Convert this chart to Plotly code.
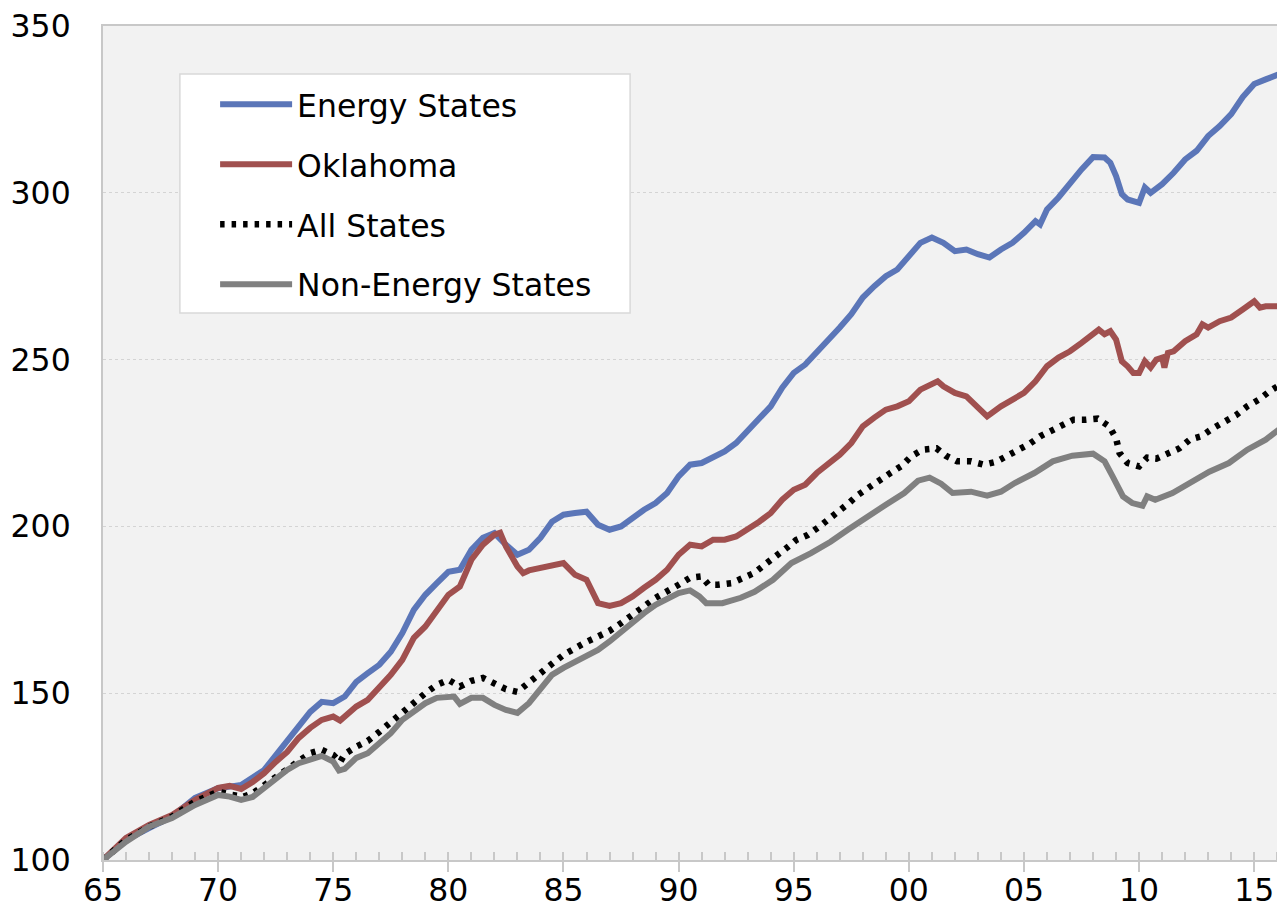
import plotly.graph_objects as go

# ---------------- data ----------------
energy_x = [1965, 1966, 1967, 1968, 1969, 1970, 1970.5, 1971, 1972, 1973, 1974, 1974.5, 1975, 1975.5,
            1976, 1976.5, 1977, 1977.5, 1978, 1978.5, 1979, 1979.5, 1980, 1980.5, 1981, 1981.5, 1982,
            1982.5, 1983, 1983.5, 1984, 1984.5, 1985, 1985.5, 1986, 1986.5, 1987, 1987.5, 1988, 1988.5,
            1989, 1989.5, 1990, 1990.5, 1991, 1991.5, 1992, 1992.5, 1993, 1993.5, 1994, 1994.5, 1995,
            1995.5, 1996, 1996.5, 1997, 1997.5, 1998, 1998.5, 1999, 1999.5, 2000, 2000.5, 2001, 2001.5,
            2002, 2002.5, 2003, 2003.5, 2004, 2004.5, 2005, 2005.5, 2005.7, 2006, 2006.5, 2007, 2007.5,
            2008, 2008.5, 2008.75, 2009, 2009.25, 2009.5, 2010, 2010.25, 2010.5, 2011, 2011.5, 2012,
            2012.5, 2013, 2013.5, 2014, 2014.5, 2015, 2015.5, 2016, 2016.25]
energy_y = [100, 106, 109.6, 113, 118.6, 121.5, 122, 122.5, 127, 136, 144.4, 147.4, 147, 149,
            153.4, 156, 158.5, 162.4, 168, 175, 179.5, 183, 186.4, 187, 193, 196.6, 198,
            194.5, 191.5, 193, 196.6, 201.4, 203.5, 204, 204.4, 200.5, 199, 200, 202.6, 205,
            207, 210, 215, 218.5, 219, 220.6, 222.5, 225, 228.5, 232, 236, 241.6, 246,
            248.5, 252, 256, 259.6, 263.6, 268.6, 272, 275, 277, 281, 285, 286.6, 285,
            282.5, 283, 281.6, 280.6, 283, 285, 288, 291.5, 290.5, 295, 298.6, 303, 307,
            310.7, 310.6, 309, 305, 299.6, 298, 297, 301.6, 300, 302.6, 306, 310,
            312.6, 317, 320, 323.6, 328.7, 332.6, 334, 335.6, 336]

oklahoma_x = [1965, 1966, 1967, 1968, 1969, 1970, 1970.5, 1971, 1971.5, 1972, 1972.5, 1973, 1973.5,
              1974, 1974.5, 1975, 1975.3, 1975.5, 1976, 1976.5, 1977, 1977.5, 1978, 1978.5, 1979,
              1979.5, 1980, 1980.5, 1981, 1981.5, 1982, 1982.25, 1982.5, 1983, 1983.25, 1983.5, 1984,
              1984.5, 1985, 1985.5, 1986, 1986.5, 1987, 1987.5, 1988, 1988.5, 1989, 1989.5, 1990,
              1990.5, 1991, 1991.5, 1992, 1992.5, 1993, 1993.5, 1994, 1994.5, 1995, 1995.5, 1996,
              1996.5, 1997, 1997.5, 1998, 1998.5, 1999, 1999.5, 2000, 2000.5, 2001, 2001.25, 2001.5,
              2002, 2002.5, 2003, 2003.4, 2004, 2004.5, 2005, 2005.5, 2006, 2006.5, 2007, 2007.5,
              2008, 2008.25, 2008.5, 2008.75, 2009, 2009.25, 2009.5, 2009.75, 2010, 2010.25, 2010.5,
              2010.75, 2011, 2011.1, 2011.25, 2011.5, 2012, 2012.5, 2012.75, 2013, 2013.5, 2014,
              2014.5, 2015, 2015.25, 2015.5, 2016, 2016.25]
oklahoma_y = [100, 106.6, 110.5, 113.5, 118, 121.6, 122.2, 121.3, 123.4, 126, 129.4, 132.4, 136.6,
              139.6, 142, 143, 141.8, 143, 146, 148, 151.6, 155.5, 160, 166.6, 170,
              175, 179.5, 182, 190, 194.5, 197.5, 198.1, 194, 188, 186, 186.8, 187.6,
              188.2, 189, 185.5, 184, 177, 176.2, 177, 179, 181.6, 184, 187, 191.5,
              194.5, 194, 196, 196, 197, 199, 201.4, 204, 208, 211, 212.5, 216,
              218.5, 221.5, 225, 230, 232.6, 235, 236, 237.5, 241, 242.6, 243.5, 242,
              240, 239, 235.6, 233, 236, 238, 240, 243.5, 248, 250.6, 252.5, 255,
              257.6, 259, 257.6, 258.5, 256, 249.5, 248, 246, 246, 249.5, 247.6,
              250, 250.6, 247.6, 252, 252.5, 255.5, 257.6, 260.6, 259.6, 261.5, 262.6,
              265, 267.5, 265.6, 266, 266, 265.6]

all_x = [1965, 1966, 1967, 1968, 1969, 1970, 1970.6, 1971.1, 1971.5, 1972, 1972.5, 1973, 1973.5,
         1974, 1974.5, 1975, 1975.3, 1975.5, 1976, 1976.5, 1977, 1977.5, 1978, 1978.5, 1979, 1979.5,
         1980, 1980.5, 1981, 1981.5, 1982, 1982.5, 1983, 1983.5, 1984, 1984.5, 1985, 1985.5, 1986,
         1986.5, 1987, 1987.5, 1988, 1988.5, 1989, 1989.5, 1990, 1990.5, 1991, 1991.3, 1991.7,
         1992.3, 1992.8, 1993.3, 1993.75, 1994.2, 1994.7, 1995.1, 1995.6, 1996.05, 1996.5, 1997,
         1997.4, 1997.8, 1998.3, 1998.8, 1999.2, 1999.7, 2000.1, 2000.6, 2001.2, 2001.6, 2002.1,
         2002.7, 2003.25, 2003.8, 2004.3, 2004.8, 2005.25, 2005.7, 2006.15, 2006.6, 2007.15,
         2007.7, 2008.2, 2008.7, 2009, 2009.15, 2009.5, 2010, 2010.35, 2010.75, 2011.3, 2011.75,
         2012.2, 2012.7, 2013.2, 2013.7, 2014.2, 2014.7, 2015.2, 2015.65, 2016.1, 2016.25]
all_y = [100, 106, 110, 113, 117.5, 120.5, 119.5, 119, 120, 122.5, 124.6, 127.6, 130,
         132, 133, 131.5, 129.4, 131.8, 134, 135.7, 138.4, 141.4, 144, 147.5, 150, 152.5,
         154, 152, 153.7, 154.6, 153, 151.2, 150.4, 153, 155.8, 158.8, 161.5, 163.6, 165.4,
         167, 168.7, 171, 173.8, 176, 178.6, 180.8, 182.5, 184.6, 185, 182.5, 182.5,
         183, 184.4, 186.1, 188.6, 190.8, 193.6, 195.9, 197.4, 199.6, 202, 204.4,
         207, 209.5, 212, 214, 216, 218.2, 221, 223, 223.4, 221.2, 219.5,
         219.5, 218.5, 219.4, 221.2, 223.4, 224.8, 227, 228.7, 230, 232,
         232, 232.3, 230, 226.4, 222, 219, 218, 220.6, 220.3, 222, 223.4,
         226, 227, 229.4, 231.5, 233.3, 236, 238, 240.4, 242.6, 243]

nonenergy_x = [1965, 1966, 1967, 1968, 1969, 1970, 1970.5, 1971, 1971.5, 1972, 1972.5, 1973, 1973.5,
               1974, 1974.5, 1975, 1975.25, 1975.5, 1976, 1976.5, 1977, 1977.5, 1978, 1978.5, 1979,
               1979.5, 1980, 1980.25, 1980.5, 1981, 1981.5, 1982, 1982.5, 1983, 1983.5, 1984, 1984.5,
               1985, 1985.5, 1986, 1986.5, 1987, 1987.5, 1988, 1988.5, 1989, 1989.5, 1990, 1990.5,
               1990.9, 1991.2, 1991.9, 1992.7, 1993.3, 1994.1, 1994.9, 1995.75, 1996.6, 1997.35,
               1998.2, 1999, 1999.8, 2000.4, 2000.9, 2001.4, 2001.9, 2002.7, 2003.4, 2004, 2004.6,
               2005.45, 2006.25, 2007.1, 2008, 2008.5, 2008.85, 2009.3, 2009.7, 2010.15, 2010.35,
               2010.7, 2011.45, 2012.25, 2013.05, 2013.9, 2014.7, 2015.5, 2016.25]
nonenergy_y = [100, 105.5, 110, 112.6, 116.5, 119.5, 119, 118, 118.9, 121.6, 124, 127, 129,
               130.3, 131.2, 129.5, 126.8, 127.3, 130.6, 132, 135, 138, 142, 144.4, 147,
               148.6, 149, 149, 146.8, 148.6, 148.6, 146.5, 145, 144.1, 147, 151.6, 155.5,
               157.6, 159.5, 161, 163, 165.5, 168.5, 171.4, 174, 176.5, 178.4, 180, 180.8,
               179, 177, 177, 178.6, 180.4, 184, 189, 192, 195.4, 199,
               202.6, 206.5, 210, 213.7, 214.6, 212.8, 210, 210.4, 209.2, 210.4, 213,
               216, 219.5, 221.2, 221.8, 219.5, 215, 209, 207, 206.2, 209,
               208, 210, 213.4, 216.4, 219, 223, 226, 230]

tick_vals = [1965, 1970, 1975, 1980, 1985, 1990, 1995, 2000, 2005, 2010, 2015]
tick_text = ["65", "70", "75", "80", "85", "90", "95", "00", "05", "10", "15"]

# ---------------- figure ----------------
FONT = "DejaVu Sans"
FS = 31.5
fig = go.Figure()

fig.add_trace(go.Scatter(x=energy_x, y=energy_y, mode="lines", name="Energy States",
                         legendgroup="a", line=dict(color="#5b76b8", width=6)))
fig.add_trace(go.Scatter(x=oklahoma_x, y=oklahoma_y, mode="lines", name="Oklahoma",
                         legendgroup="b", line=dict(color="#a0504f", width=6)))
fig.add_trace(go.Scatter(x=all_x, y=all_y, mode="lines", name="All States",
                         legendgroup="c", line=dict(color="black", width=6.5, dash="4.5px,7px")))
fig.add_trace(go.Scatter(x=nonenergy_x, y=nonenergy_y, mode="lines", name="Non-Energy States",
                         legendgroup="d", line=dict(color="#808080", width=6)))

axis_grey = "#c8c8c8"

fig.update_layout(
    width=1277, height=909,
    margin=dict(l=95, r=0, t=18, b=57),
    paper_bgcolor="white",
    plot_bgcolor="#f2f2f2",
    font=dict(family=FONT, size=FS, color="black"),
    showlegend=True,
    legend=dict(
        x=0.095, y=0.9384, xanchor="left", yanchor="top",
        bgcolor="rgba(0,0,0,0)", borderwidth=0,
        font=dict(family=FONT, size=FS, color="black"),
        traceorder="grouped", tracegroupgap=16, itemwidth=72,
    ),
    xaxis=dict(
        range=[1965, 2016.25], tickmode="array", tickvals=tick_vals, ticktext=tick_text,
        ticks="outside", ticklen=10, tickwidth=2, tickcolor=axis_grey,
        ticklabelstandoff=-9,
        minor=dict(dtick=1, tick0=1965, ticks="inside", ticklen=8, tickwidth=1.5, tickcolor=axis_grey),
        showline=True, linecolor=axis_grey, linewidth=2, mirror=True,
        showgrid=False, zeroline=False,
        tickfont=dict(family=FONT, size=FS, color="black"),
    ),
    xaxis2=dict(
        range=[1965, 2016.25], overlaying="x", anchor="y", side="bottom",
        tickmode="array", tickvals=tick_vals, ticks="inside", ticklen=10, tickwidth=2,
        tickcolor=axis_grey, showticklabels=False, showgrid=False, showline=False, zeroline=False,
    ),
    yaxis=dict(
        range=[100, 350], tickmode="linear", tick0=100, dtick=50,
        ticks="outside", ticklen=24, tickcolor="rgba(0,0,0,0)",
        showline=True, linecolor=axis_grey, linewidth=2, mirror=True,
        showgrid=True, gridcolor="#d4d4d4", gridwidth=1, griddash="dot",
        zeroline=False,
        tickfont=dict(family=FONT, size=FS, color="black"),
    ),
    shapes=[dict(
        type="rect", xref="paper", yref="paper", layer="above",
        x0=(180 - 103) / 1182, x1=(631 - 103) / 1182,
        y0=(860 - 313) / 834, y1=(860 - 74) / 834,
        fillcolor="white", line=dict(color="#d9d9d9", width=1.5),
    )],
)

fig.write_html("out.html")
